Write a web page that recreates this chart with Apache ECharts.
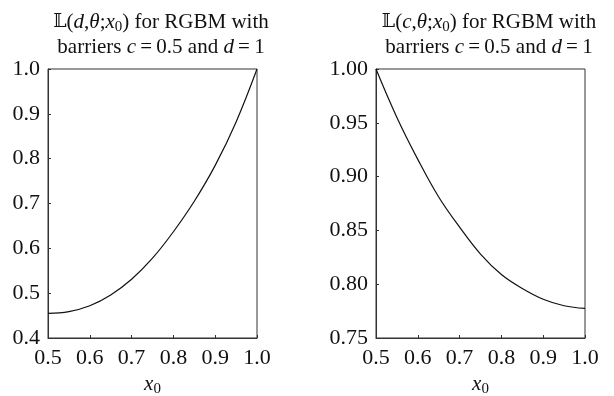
<!DOCTYPE html>
<html>
<head>
<meta charset="utf-8">
<script src="https://cdn.jsdelivr.net/npm/echarts@6/dist/echarts.min.js"></script>
<style>
  html, body { margin: 0; padding: 0; background: #fff; }
  #chart { width: 614px; height: 396px; }
</style>
</head>
<body>
<div id="chart"></div>
<script>
// x0 grid shared by both panels
const x0 = [0.5, 0.55, 0.6, 0.65, 0.7, 0.75, 0.8, 0.85, 0.9, 0.95, 1.0];
// L(d, theta; x0)
const lowerD = [0.455, 0.459, 0.472, 0.496, 0.531, 0.578, 0.637, 0.705, 0.785, 0.882, 1.0];
// L(c, theta; x0)
const lowerC = [1.0, 0.955, 0.916, 0.881, 0.853, 0.828, 0.809, 0.796, 0.786, 0.780, 0.7775];

const xTicks = [0.5, 0.6, 0.7, 0.8, 0.9, 1.0];
const leftYTicks = [0.4, 0.5, 0.6, 0.7, 0.8, 0.9, 1.0];
const rightYTicks = [0.75, 0.8, 0.85, 0.9, 0.95, 1.0];

const serif = "Liberation Serif";
const ink = "#111";

const rich = {
  i: { fontFamily: serif, fontStyle: "italic", fontSize: 21, color: ink },
  sub: { fontFamily: serif, fontSize: 15, color: ink, padding: [9, 0, 0, 0] },
  bb: { fontFamily: "DejaVu Serif", fontSize: 19, color: ink }
};

function makeTitle(letter, center) {
  return {
    text: "{bb|\u{1D543}}({i|" + letter + "},{i|\u03B8};{i|x}{sub|0}) for RGBM with\nbarriers {i|c}\u2009=\u20090.5 and {i|d}\u2009=\u20091",
    left: center,
    top: 5,
    textAlign: "center",
    textStyle: {
      fontFamily: serif,
      fontSize: 21,
      fontWeight: "normal",
      color: ink,
      lineHeight: 25,
      rich: rich
    }
  };
}

function makeX(idx) {
  return {
    type: "value",
    gridIndex: idx,
    min: 0.5,
    max: 1.0,
    interval: 0.1,
    name: "{i|x}{sub|0}",
    nameLocation: "middle",
    nameGap: 33,
    nameTextStyle: { fontFamily: serif, fontSize: 21, color: ink, rich: rich },
    axisLine: { lineStyle: { color: "#333", width: 1 } },
    axisTick: { inside: true, length: 3, lineStyle: { color: "#333" } },
    axisLabel: {
      fontFamily: serif,
      fontSize: 22,
      color: ink,
      margin: 9,
      formatter: (v) => (xTicks.includes(+v.toFixed(2)) ? v.toFixed(1) : "")
    },
    splitLine: { show: false }
  };
}

function makeY(idx, min, max, step, digits) {
  return {
    type: "value",
    gridIndex: idx,
    min: min,
    max: max,
    interval: step,
    axisLine: { show: true, lineStyle: { color: "#333", width: 1 } },
    axisTick: { show: true, inside: true, length: 3, lineStyle: { color: "#333" } },
    axisLabel: {
      fontFamily: serif,
      fontSize: 22,
      color: ink,
      margin: 8,
      formatter: (v) => v.toFixed(digits)
    },
    splitLine: { show: false }
  };
}

const chart = echarts.init(document.getElementById("chart"), null, { renderer: "canvas" });

const gridBase = { top: 69, width: 209, height: 269, show: true, borderColor: "#333", borderWidth: 1, outerBoundsMode: "none", containLabel: false };

chart.setOption({
  animation: false,
  backgroundColor: "#fff",
  title: [makeTitle("d", 156), makeTitle("c", 484)],
  grid: [
    Object.assign({ left: 48 }, gridBase),
    Object.assign({ left: 376 }, gridBase)
  ],
  xAxis: [makeX(0), makeX(1)],
  yAxis: [
    makeY(0, leftYTicks[0], leftYTicks[leftYTicks.length - 1], 0.1, 1),
    makeY(1, rightYTicks[0], rightYTicks[rightYTicks.length - 1], 0.05, 2)
  ],
  series: [
    {
      type: "line",
      xAxisIndex: 0,
      yAxisIndex: 0,
      data: x0.map((x, i) => [x, lowerD[i]]),
      smooth: 0.4,
      showSymbol: false,
      lineStyle: { color: ink, width: 1.2 }
    },
    {
      type: "line",
      xAxisIndex: 1,
      yAxisIndex: 1,
      data: x0.map((x, i) => [x, lowerC[i]]),
      smooth: 0.4,
      showSymbol: false,
      lineStyle: { color: ink, width: 1.2 }
    }
  ]
});
</script>
</body>
</html>
